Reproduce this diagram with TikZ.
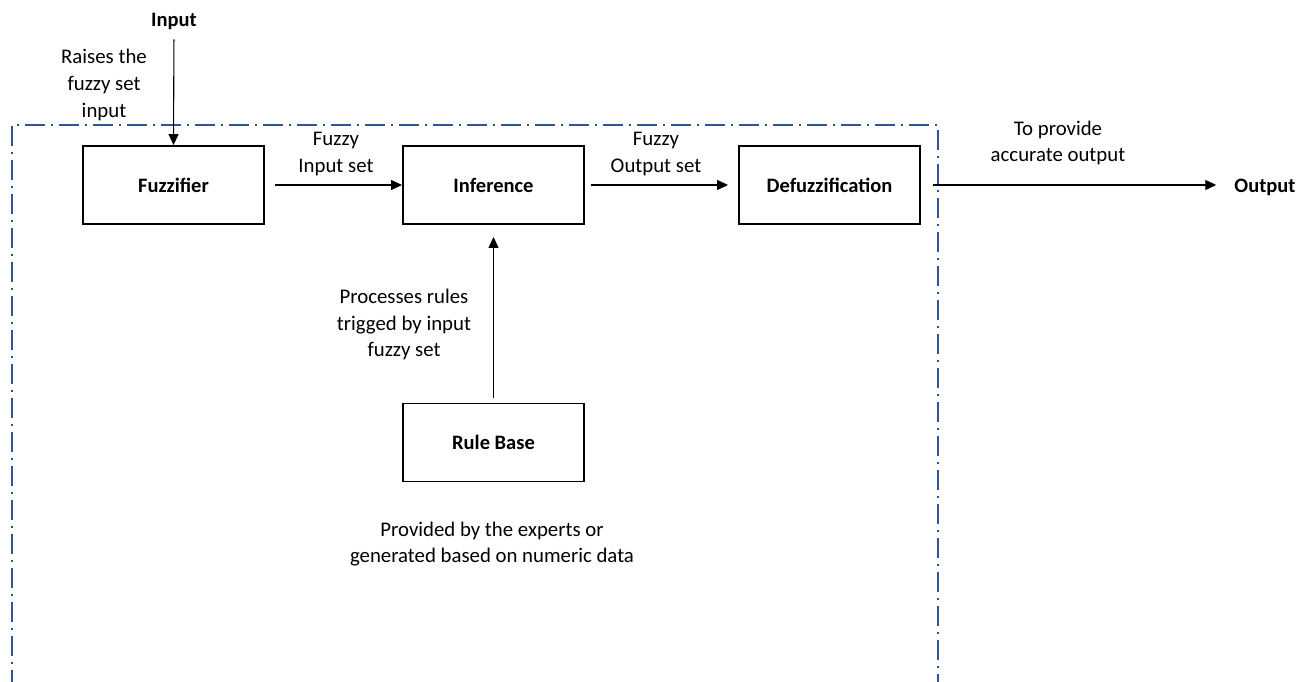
\documentclass[tikz,border=0pt]{standalone}
\usepackage{fontspec}
\setmainfont{Carlito}
\usetikzlibrary{arrows.meta}
\definecolor{frameblue}{RGB}{47,85,151}
\tikzset{
  blk/.style={draw, line width=1.9pt, minimum width=181pt, minimum height=78pt, font=\fontsize{20.5}{24}\selectfont\bfseries},
  lbl/.style={align=center, font=\fontsize{20.8}{26.7}\selectfont, inner sep=0pt},
  blbl/.style={font=\fontsize{20.5}{24}\selectfont\bfseries, inner sep=0pt},
  conn/.style={line width=1.1pt, -{Triangle[length=11pt,width=10pt]}},
  frame/.style={draw=frameblue, line width=1.3pt, dash pattern=on 20pt off 6pt on 2pt off 6pt}
}
\begin{document}
\begin{tikzpicture}[x=1pt,y=-1pt]
\useasboundingbox (0,0) rectangle (1309,682);
% frame (open at the bottom)
\draw[frame] (12,690) -- (12,125) -- (938,125) -- (938,690);
% blocks
\node[blk] (fuzz) at (173.5,185) {Fuzzifier};
\node[blk] (inf) at (493.5,185) {Inference};
\node[blk] (defuzz) at (829.5,185) {Defuzzification};
\node[blk] (rule) at (493.5,442.5) {Rule Base};
% terminals
\node[blbl] (in) at (174,21) {Input};
\node[blbl] (out) at (1265,187) {Output};
% labels
\node[lbl] (l1) at (104,85) {Raises the\\fuzzy set\\input};
\node[lbl] (l2) at (336,154) {Fuzzy\\Input set};
\node[lbl] (l3) at (656,154) {Fuzzy\\Output set};
\node[lbl] (l4) at (1058,143) {To provide\\accurate output};
\node[lbl] (l5) at (404,324.5) {Processes rules\\trigged by input\\fuzzy set};
\node[lbl] (l6) at (492,544) {Provided by the experts or\\generated based on numeric data};
% connectors
\draw[conn, shorten <=10pt] (in.south) -- (fuzz.north);
\draw[conn, shorten <=10pt] (fuzz.east) -- (inf.west);
\draw[conn, shorten <=6pt, shorten >=10pt] (inf.east) -- (defuzz.west);
\draw[conn, shorten <=12pt, shorten >=18pt] (defuzz.east) -- (defuzz.east -| out.west);
\draw[conn, shorten <=5pt, shorten >=12pt] (rule.north) -- (inf.south);
\end{tikzpicture}
\end{document}
